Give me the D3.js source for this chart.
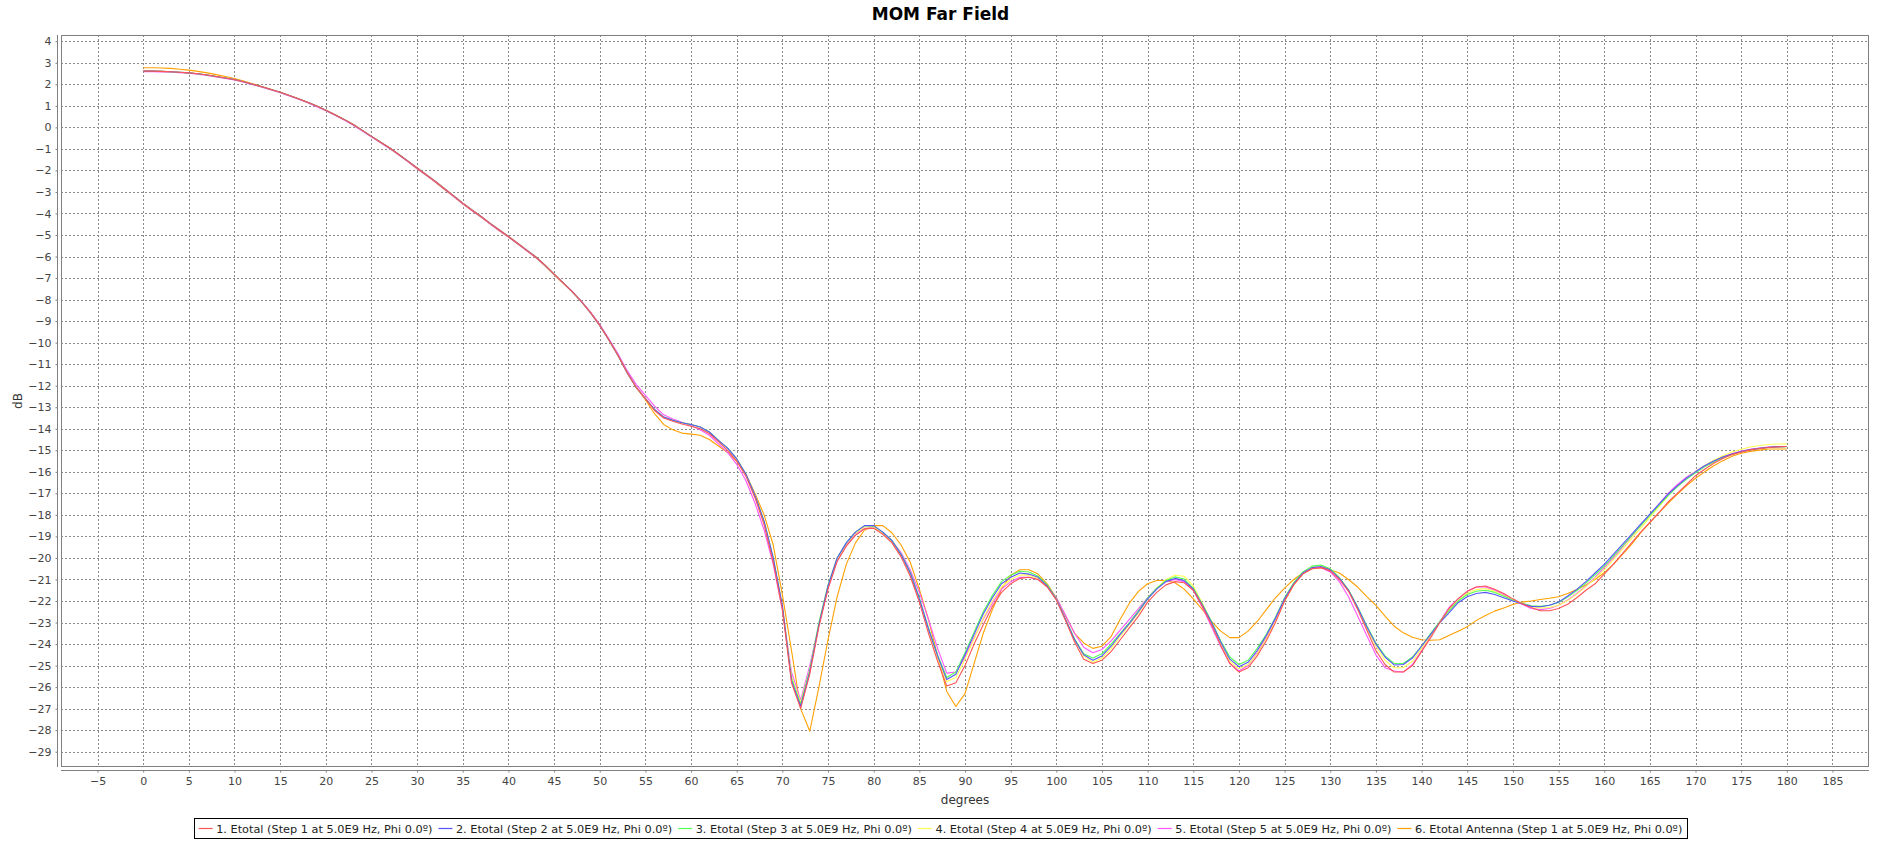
<!DOCTYPE html>
<html>
<head>
<meta charset="utf-8">
<script src="https://cdn.jsdelivr.net/npm/d3@7"></script>
<style>
html,body{margin:0;padding:0;background:#fff;}
svg{display:block;}
text{font-family:"DejaVu Sans",sans-serif;}
</style>
</head>
<body>
<svg id="chart" width="1881" height="841"></svg>
<script>
// ---------- data ----------
const angles = d3.range(0, 181, 1);

const xTicks = [-5,0,5,10,15,20,25,30,35,40,45,50,55,60,65,70,75,80,85,90,95,100,105,110,115,120,125,130,135,140,145,150,155,160,165,170,175,180,185];
const yTicks = [4,3,2,1,0,-1,-2,-3,-4,-5,-6,-7,-8,-9,-10,-11,-12,-13,-14,-15,-16,-17,-18,-19,-20,-21,-22,-23,-24,-25,-26,-27,-28,-29];

const seriesNames = [
  "1. Etotal (Step 1 at 5.0E9 Hz, Phi 0.0º)",
  "2. Etotal (Step 2 at 5.0E9 Hz, Phi 0.0º)",
  "3. Etotal (Step 3 at 5.0E9 Hz, Phi 0.0º)",
  "4. Etotal (Step 4 at 5.0E9 Hz, Phi 0.0º)",
  "5. Etotal (Step 5 at 5.0E9 Hz, Phi 0.0º)",
  "6. Etotal Antenna (Step 1 at 5.0E9 Hz, Phi 0.0º)"
];
const seriesColors = ["#ff5555","#5555ff","#55ff55","#ffff55","#ff55ff","#ffa000"];

const step1 = [
 2.61,2.61,2.60,2.58,2.56,2.53,2.49,2.43,2.36,2.29,
 2.22,2.12,2.00,1.89,1.76,1.63,1.48,1.33,1.17,0.99,
 0.80,0.59,0.37,0.13,-0.14,-0.42,-0.69,-0.96,-1.26,-1.57,
 -1.89,-2.20,-2.51,-2.85,-3.18,-3.52,-3.84,-4.14,-4.46,-4.77,
 -5.07,-5.38,-5.70,-6.02,-6.40,-6.82,-7.22,-7.64,-8.10,-8.62,
 -9.20,-9.88,-10.60,-11.40,-12.08,-12.60,-13.15,-13.50,-13.65,-13.78,
 -13.88,-14.00,-14.22,-14.60,-15.00,-15.50,-16.20,-17.20,-18.45,-20.20,
 -22.40,-25.80,-27.00,-25.40,-23.20,-21.45,-20.15,-19.45,-18.95,-18.65,
 -18.62,-18.90,-19.30,-19.95,-20.85,-22.05,-23.50,-24.80,-25.95,-25.80,
 -25.00,-24.00,-23.10,-22.25,-21.60,-21.20,-20.95,-20.90,-21.00,-21.35,
 -21.95,-22.90,-23.90,-24.70,-24.90,-24.75,-24.35,-23.80,-23.25,-22.70,
 -22.05,-21.60,-21.25,-21.10,-21.15,-21.50,-22.25,-23.10,-24.05,-24.90,
 -25.30,-25.10,-24.55,-23.85,-23.00,-22.00,-21.25,-20.75,-20.50,-20.45,
 -20.60,-21.00,-21.55,-22.40,-23.35,-24.30,-24.95,-25.30,-25.30,-25.00,
 -24.35,-23.70,-23.00,-22.35,-21.90,-21.55,-21.35,-21.30,-21.45,-21.65,
 -21.90,-22.13,-22.30,-22.45,-22.45,-22.35,-22.15,-21.85,-21.50,-21.20,
 -20.75,-20.30,-19.80,-19.30,-18.80,-18.35,-17.90,-17.40,-17.00,-16.60,
 -16.18,-15.88,-15.60,-15.38,-15.20,-15.08,-14.98,-14.92,-14.87,-14.84,-14.82
];

const step2 = [
 2.61,2.61,2.60,2.58,2.56,2.53,2.49,2.43,2.36,2.29,
 2.22,2.12,2.00,1.89,1.76,1.63,1.48,1.33,1.17,0.99,
 0.80,0.59,0.37,0.13,-0.14,-0.42,-0.69,-0.96,-1.26,-1.57,
 -1.89,-2.20,-2.51,-2.85,-3.18,-3.52,-3.84,-4.14,-4.46,-4.77,
 -5.07,-5.38,-5.70,-6.02,-6.40,-6.82,-7.22,-7.64,-8.10,-8.62,
 -9.20,-9.88,-10.60,-11.40,-12.08,-12.60,-13.10,-13.46,-13.60,-13.72,
 -13.80,-13.92,-14.15,-14.54,-14.90,-15.40,-16.10,-17.10,-18.30,-20.00,
 -22.20,-25.70,-26.90,-25.30,-23.10,-21.30,-20.00,-19.30,-18.80,-18.50,
 -18.50,-18.80,-19.20,-19.85,-20.70,-21.90,-23.30,-24.55,-25.65,-25.40,
 -24.50,-23.55,-22.60,-21.85,-21.20,-20.90,-20.70,-20.75,-20.90,-21.30,
 -21.92,-22.85,-23.80,-24.50,-24.75,-24.55,-24.10,-23.55,-23.05,-22.50,
 -21.90,-21.45,-21.10,-20.95,-21.05,-21.45,-22.20,-23.00,-23.90,-24.70,
 -25.05,-24.85,-24.30,-23.60,-22.80,-21.90,-21.20,-20.70,-20.45,-20.40,
 -20.55,-20.95,-21.50,-22.30,-23.20,-24.00,-24.60,-24.97,-24.95,-24.65,
 -24.10,-23.55,-23.00,-22.55,-22.08,-21.80,-21.65,-21.60,-21.70,-21.85,
 -22.00,-22.13,-22.25,-22.27,-22.20,-22.05,-21.77,-21.46,-21.10,-20.70,
 -20.30,-19.83,-19.37,-18.90,-18.43,-17.97,-17.50,-17.04,-16.65,-16.30,
 -16.00,-15.72,-15.50,-15.31,-15.17,-15.06,-14.97,-14.91,-14.86,-14.83,-14.82
];

const step3 = [
 2.61,2.61,2.60,2.58,2.56,2.53,2.49,2.43,2.36,2.29,
 2.22,2.12,2.00,1.89,1.76,1.63,1.48,1.33,1.17,0.99,
 0.80,0.59,0.37,0.13,-0.14,-0.42,-0.69,-0.96,-1.26,-1.57,
 -1.89,-2.20,-2.51,-2.85,-3.18,-3.52,-3.84,-4.14,-4.46,-4.77,
 -5.07,-5.38,-5.70,-6.02,-6.40,-6.82,-7.22,-7.64,-8.10,-8.62,
 -9.20,-9.88,-10.60,-11.40,-12.08,-12.60,-13.10,-13.46,-13.60,-13.72,
 -13.80,-13.92,-14.15,-14.54,-14.90,-15.40,-16.10,-17.10,-18.30,-20.00,
 -22.30,-25.60,-26.80,-25.20,-23.00,-21.25,-20.00,-19.30,-18.80,-18.50,
 -18.52,-18.80,-19.18,-19.82,-20.65,-21.85,-23.25,-24.50,-25.55,-25.30,
 -24.40,-23.45,-22.50,-21.75,-21.10,-20.80,-20.62,-20.65,-20.85,-21.25,
 -21.90,-22.85,-23.75,-24.45,-24.65,-24.45,-24.00,-23.50,-23.00,-22.45,
 -21.85,-21.40,-21.05,-20.88,-20.98,-21.40,-22.15,-22.95,-23.85,-24.60,
 -24.95,-24.75,-24.20,-23.55,-22.75,-21.85,-21.15,-20.65,-20.38,-20.33,
 -20.50,-20.92,-21.48,-22.28,-23.15,-23.95,-24.55,-24.90,-24.90,-24.60,
 -24.10,-23.50,-22.95,-22.45,-22.00,-21.70,-21.55,-21.50,-21.60,-21.78,
 -21.95,-22.10,-22.22,-22.25,-22.20,-22.07,-21.82,-21.52,-21.17,-20.78,
 -20.38,-19.92,-19.45,-18.98,-18.50,-18.03,-17.56,-17.10,-16.70,-16.35,
 -16.05,-15.77,-15.54,-15.34,-15.19,-15.07,-14.98,-14.92,-14.87,-14.84,-14.83
];

const step4 = [
 2.61,2.61,2.60,2.58,2.56,2.53,2.49,2.43,2.36,2.29,
 2.22,2.12,2.00,1.89,1.76,1.63,1.48,1.33,1.17,0.99,
 0.80,0.59,0.37,0.13,-0.14,-0.42,-0.69,-0.96,-1.26,-1.57,
 -1.89,-2.20,-2.51,-2.85,-3.18,-3.52,-3.84,-4.14,-4.46,-4.77,
 -5.07,-5.38,-5.70,-6.02,-6.40,-6.82,-7.22,-7.64,-8.10,-8.62,
 -9.20,-9.88,-10.60,-11.40,-12.08,-12.60,-13.10,-13.46,-13.60,-13.72,
 -13.80,-13.92,-14.15,-14.54,-14.90,-15.40,-16.10,-17.10,-18.30,-20.00,
 -22.20,-25.50,-26.70,-25.20,-23.10,-21.30,-20.05,-19.35,-18.85,-18.55,
 -18.55,-18.85,-19.25,-19.90,-20.75,-21.95,-23.35,-24.65,-25.75,-25.55,
 -24.70,-23.75,-22.80,-22.00,-21.35,-21.00,-20.80,-20.80,-20.95,-21.30,
 -21.90,-22.85,-23.80,-24.55,-24.85,-24.65,-24.20,-23.65,-23.10,-22.55,
 -21.92,-21.40,-21.00,-20.80,-20.85,-21.30,-22.10,-23.00,-23.95,-24.80,
 -25.15,-24.95,-24.45,-23.75,-22.95,-22.00,-21.25,-20.72,-20.42,-20.35,
 -20.50,-20.92,-21.50,-22.32,-23.25,-24.10,-24.75,-25.10,-25.10,-24.80,
 -24.20,-23.60,-23.00,-22.45,-22.00,-21.65,-21.47,-21.42,-21.55,-21.75,
 -21.95,-22.12,-22.25,-22.32,-22.30,-22.20,-21.98,-21.68,-21.33,-20.95,
 -20.55,-20.08,-19.60,-19.10,-18.62,-18.12,-17.62,-17.12,-16.68,-16.30,
 -15.98,-15.70,-15.46,-15.25,-15.08,-14.95,-14.85,-14.78,-14.73,-14.71,-14.70
];

const step5 = [
 2.58,2.58,2.57,2.56,2.54,2.51,2.47,2.41,2.34,2.27,
 2.20,2.10,1.98,1.87,1.74,1.61,1.46,1.31,1.14,0.96,
 0.77,0.56,0.34,0.10,-0.17,-0.45,-0.72,-0.99,-1.29,-1.60,
 -1.92,-2.23,-2.54,-2.88,-3.21,-3.55,-3.87,-4.17,-4.49,-4.80,
 -5.10,-5.41,-5.73,-6.05,-6.42,-6.83,-7.22,-7.62,-8.07,-8.58,
 -9.15,-9.82,-10.52,-11.30,-11.95,-12.45,-12.95,-13.35,-13.55,-13.70,
 -13.85,-14.05,-14.30,-14.70,-15.10,-15.65,-16.40,-17.45,-18.70,-20.30,
 -22.40,-25.30,-26.60,-25.00,-23.10,-21.40,-20.15,-19.40,-18.90,-18.62,
 -18.60,-18.85,-19.20,-19.75,-20.55,-21.60,-22.85,-24.20,-25.35,-25.30,
 -24.60,-23.70,-22.85,-22.10,-21.45,-21.10,-20.90,-20.90,-21.00,-21.30,
 -21.85,-22.65,-23.50,-24.15,-24.40,-24.25,-23.85,-23.35,-22.85,-22.35,
 -21.85,-21.40,-21.10,-21.00,-21.10,-21.50,-22.30,-23.20,-24.10,-24.90,
 -25.25,-25.00,-24.40,-23.70,-22.85,-21.95,-21.20,-20.70,-20.45,-20.45,
 -20.65,-21.10,-21.80,-22.70,-23.60,-24.50,-25.10,-25.25,-25.30,-24.95,
 -24.30,-23.60,-22.95,-22.30,-21.90,-21.55,-21.35,-21.35,-21.50,-21.70,
 -21.95,-22.15,-22.35,-22.40,-22.35,-22.20,-21.95,-21.65,-21.30,-20.90,
 -20.45,-20.00,-19.50,-19.00,-18.50,-18.00,-17.50,-17.00,-16.60,-16.25,
 -15.98,-15.72,-15.50,-15.30,-15.15,-15.03,-14.95,-14.89,-14.85,-14.83,-14.82
];

const antenna = [
 2.77,2.77,2.76,2.74,2.70,2.66,2.60,2.53,2.45,2.36,
 2.27,2.15,2.03,1.90,1.77,1.63,1.48,1.33,1.17,0.99,
 0.80,0.59,0.37,0.13,-0.14,-0.42,-0.69,-0.96,-1.27,-1.59,
 -1.92,-2.23,-2.55,-2.89,-3.22,-3.56,-3.87,-4.17,-4.49,-4.80,
 -5.10,-5.41,-5.73,-6.05,-6.43,-6.85,-7.24,-7.64,-8.09,-8.60,
 -9.18,-9.86,-10.58,-11.38,-12.08,-12.65,-13.30,-13.80,-14.05,-14.20,
 -14.25,-14.30,-14.50,-14.80,-15.10,-15.50,-16.10,-17.00,-18.00,-19.40,
 -21.70,-24.30,-27.00,-28.05,-26.00,-23.80,-21.80,-20.30,-19.30,-18.70,
 -18.50,-18.50,-18.83,-19.40,-20.20,-21.45,-22.85,-24.55,-26.20,-26.90,
 -26.30,-24.90,-23.50,-22.40,-21.45,-20.80,-20.55,-20.55,-20.75,-21.20,
 -21.85,-22.70,-23.50,-23.95,-24.20,-24.10,-23.65,-22.85,-22.10,-21.55,
 -21.20,-21.05,-21.05,-21.15,-21.45,-21.90,-22.40,-22.95,-23.40,-23.70,
 -23.70,-23.40,-22.95,-22.40,-21.85,-21.40,-21.00,-20.70,-20.50,-20.45,
 -20.55,-20.70,-21.00,-21.35,-21.80,-22.20,-22.70,-23.17,-23.48,-23.68,
 -23.80,-23.82,-23.80,-23.60,-23.40,-23.20,-22.90,-22.67,-22.47,-22.32,
 -22.16,-22.05,-22.00,-21.93,-21.87,-21.80,-21.65,-21.46,-21.26,-21.00,
 -20.69,-20.30,-19.83,-19.37,-18.82,-18.36,-17.90,-17.46,-17.04,-16.65,
 -16.30,-16.00,-15.72,-15.48,-15.28,-15.14,-15.05,-14.99,-14.94,-14.94,-14.94
];

const seriesValues = [step1, step2, step3, step4, step5, antenna];

// ---------- layout ----------
const svg = d3.select("#chart");
const L = 61, T = 35, R = 1869, B = 767;
const x = d3.scaleLinear().domain([-9, 189]).range([L, R]);
const y = d3.scaleLinear().domain([-29.71, 4.29]).range([B, T]);

svg.append("rect").attr("x",0).attr("y",0).attr("width",1881).attr("height",841).attr("fill","#fff");

// gridlines
const grid = svg.append("g").attr("stroke","#8a8a8a").attr("stroke-width",1).attr("stroke-dasharray","2,2").attr("fill","none");
xTicks.forEach(t => {
  const px = Math.round(x(t)) + 0.5;
  grid.append("line").attr("x1",px).attr("x2",px).attr("y1",T).attr("y2",B);
});
yTicks.forEach(t => {
  const py = Math.round(y(t)) + 0.5;
  grid.append("line").attr("x1",L).attr("x2",R).attr("y1",py).attr("y2",py);
});

// series (series 1 drawn last -> on top)
const lineGen = d3.line().x((d,i) => x(angles[i])).y(d => y(d));
svg.append("clipPath").attr("id","plotclip").append("rect").attr("x",L).attr("y",T).attr("width",R-L).attr("height",B-T);
const lines = svg.append("g").attr("clip-path","url(#plotclip)");
for (let s = seriesValues.length - 1; s >= 0; s--) {
  lines.append("path").datum(seriesValues[s])
    .attr("d", lineGen)
    .attr("fill","none")
    .attr("stroke", seriesColors[s])
    .attr("stroke-width", 1.1)
    .attr("stroke-linejoin","round");
}

// plot border
svg.append("rect").attr("x",L+0.5).attr("y",T+0.5).attr("width",R-L-1).attr("height",B-T-1)
  .attr("fill","none").attr("stroke","#808080").attr("stroke-width",1);

// y axis
const yAxisX = 57;
const yAx = svg.append("g").attr("transform",`translate(${yAxisX + 0.5},0)`)
  .call(d3.axisLeft(y).tickValues(yTicks).tickSize(2).tickPadding(4).tickFormat(d3.format("d")));
yAx.select(".domain").attr("stroke","#808080").attr("d",`M0,${T}V${B}`);
yAx.selectAll(".tick line").attr("stroke","#808080");
yAx.selectAll(".tick text").attr("fill","#444").style("font-size","11px").style("font-family","DejaVu Sans, sans-serif");

// x axis
const xAxisY = 770;
const xAx = svg.append("g").attr("transform",`translate(0,${xAxisY + 0.5})`)
  .call(d3.axisBottom(x).tickValues(xTicks).tickSize(2).tickPadding(5).tickFormat(d3.format("d")));
xAx.select(".domain").attr("stroke","#808080").attr("d",`M${L},0H${R}`);
xAx.selectAll(".tick line").attr("stroke","#808080");
xAx.selectAll(".tick text").attr("fill","#444").style("font-size","11px").style("font-family","DejaVu Sans, sans-serif");

// title
svg.append("text").attr("x",940.5).attr("y",20).attr("text-anchor","middle")
  .style("font-weight","bold").style("font-size","17px").attr("fill","#000").text("MOM Far Field");

// axis labels
svg.append("text").attr("x",(L+R)/2).attr("y",804).attr("text-anchor","middle")
  .style("font-size","12px").attr("fill","#333").text("degrees");
svg.append("text").attr("transform",`translate(22,${(T+B)/2}) rotate(-90)`).attr("text-anchor","middle")
  .style("font-size","12px").attr("fill","#333").text("dB");

// legend
const legend = svg.append("g");
const fs = 11.3;
const items = [];
seriesNames.forEach((name, i) => {
  const g = legend.append("g");
  g.append("line").attr("x1",0).attr("x2",14).attr("y1",0).attr("y2",0).attr("stroke",seriesColors[i]).attr("stroke-width",1.2);
  const t = g.append("text").attr("x",17.5).attr("y",4).style("font-size",fs+"px").attr("fill","#222").text(name);
  const w = t.node().getComputedTextLength();
  items.push({g, w});
});
const gap = 6;
const total = items.reduce((a,it)=>a + 17.5 + it.w, 0) + gap*(items.length-1);
let startX = 940.5 - total/2;
items.forEach(it => {
  it.g.attr("transform",`translate(${startX},828.5)`);
  startX += 17.5 + it.w + gap;
});
legend.insert("rect",":first-child")
  .attr("x", Math.round(940.5 - total/2 - 5) + 0.5).attr("y",818.5)
  .attr("width", Math.round(total + 9)).attr("height",20)
  .attr("fill","#fff").attr("stroke","#000").attr("stroke-width",1);
</script>
</body>
</html>
